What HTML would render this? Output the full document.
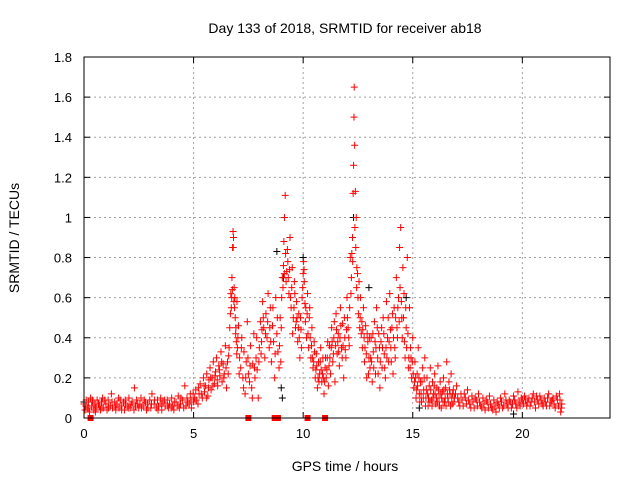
<!DOCTYPE html>
<html><head><meta charset="utf-8"><style>
body{margin:0;background:#fff}
svg{display:block;font-family:"Liberation Sans",sans-serif}
</style></head><body>
<svg id="chart" width="640" height="480" viewBox="0 0 640 480">
<text x="345" y="33" font-size="14" text-anchor="middle">Day 133 of 2018, SRMTID for receiver ab18</text>
<text transform="translate(19,238) rotate(-90)" font-size="14" text-anchor="middle">SRMTID / TECUs</text>
<text x="345" y="471" font-size="14" text-anchor="middle">GPS time / hours</text>
<g id="grid"></g>
<g id="marks"></g>
<rect x="84" y="57" width="526" height="361" fill="none" stroke="#000" stroke-width="1"/>
<g id="axes"></g>
</svg>
<script>
const xTicks=[0,5,10,15,20];
const yTicks=[0,0.2,0.4,0.6,0.8,1,1.2,1.4,1.6,1.8];
const yTickLabels=["0","0.2","0.4","0.6","0.8","1","1.2","1.4","1.6","1.8"];
const redPoints=[[0,0.07],[0.05,0.04],[0.1,0.09],[0.15,0.05],[0.2,0.08],[0.25,0.03],[0.3,0.1],[0.35,0.06],[0.4,0.08],[0.45,0.04],[0.5,0.07],[0.55,0.05],[0.6,0.09],[0.7,0.06],[0.75,0.04],[0.8,0.08],[0.85,0.1],[0.9,0.05],[1.0,0.07],[1.05,0.04],[1.1,0.09],[1.2,0.06],[1.25,0.12],[1.3,0.05],[1.4,0.08],[1.45,0.04],[1.5,0.07],[1.6,0.05],[1.65,0.09],[1.7,0.06],[1.8,0.08],[1.85,0.04],[1.9,0.07],[2.0,0.06],[2.05,0.1],[2.1,0.05],[2.2,0.08],[2.3,0.15],[2.35,0.06],[2.4,0.09],[2.5,0.05],[2.55,0.07],[2.6,0.1],[2.7,0.06],[2.8,0.08],[2.85,0.04],[2.9,0.07],[3.0,0.09],[3.05,0.05],[3.1,0.12],[3.2,0.07],[3.3,0.05],[3.35,0.09],[3.4,0.06],[3.5,0.1],[3.55,0.04],[3.6,0.08],[3.7,0.06],[3.8,0.09],[3.85,0.05],[3.9,0.07],[4.0,0.1],[4.05,0.06],[4.1,0.04],[4.2,0.08],[4.3,0.11],[4.35,0.05],[4.4,0.07],[4.5,0.09],[4.6,0.16],[4.65,0.06],[4.7,0.1],[4.8,0.07],[4.85,0.12],[4.9,0.05],[5.0,0.08],
[5.05,0.1],[5.1,0.14],[5.2,0.07],[5.25,0.12],[5.3,0.17],[5.4,0.1],[5.45,0.2],[5.5,0.13],[5.55,0.16],[5.6,0.22],[5.65,0.11],[5.7,0.19],[5.75,0.25],[5.8,0.14],[5.85,0.2],[5.9,0.28],[5.95,0.17],[6.0,0.23],[6.05,0.3],[6.1,0.16],[6.15,0.26],[6.2,0.21],[6.25,0.33],[6.3,0.18],[6.35,0.27],[6.4,0.22],[6.45,0.36],[6.5,0.15],[6.55,0.28],[6.6,0.31],
[6.65,0.45],[6.7,0.62],[6.72,0.55],[6.75,0.7],[6.78,0.85],[6.8,0.93],[6.82,0.9],[6.85,0.65],[6.88,0.6],[6.9,0.5],[6.92,0.42],[6.95,0.38],[6.98,0.58],[7.0,0.35],[7.05,0.46],[7.1,0.3],[7.15,0.25],[7.2,0.4],[7.25,0.2],[7.3,0.33],[7.35,0.12],[7.4,0.28],[7.45,0.48],[7.5,0.22],[7.55,0.18],[7.6,0.36],[7.65,0.15],[7.7,0.27],[7.75,0.42],[7.8,0.2],[7.85,0.3],[7.9,0.24],[7.95,0.1],[8.0,0.35],
[8.05,0.48],[8.1,0.38],[8.15,0.58],[8.2,0.45],[8.25,0.3],[8.3,0.52],[8.35,0.4],[8.4,0.62],[8.45,0.35],[8.5,0.55],[8.55,0.28],[8.6,0.46],[8.65,0.38],[8.7,0.2],[8.75,0.6],[8.8,0.42],[8.85,0.33],[8.9,0.25],[8.95,0.5],[9.0,0.45],
[9.05,0.7],[9.1,0.76],[9.12,0.88],[9.15,1.0],[9.18,1.11],[9.2,0.82],[9.25,0.73],[9.3,0.78],[9.35,0.62],[9.4,0.9],[9.45,0.55],[9.5,0.75],[9.55,0.5],[9.6,0.68],[9.65,0.45],[9.7,0.58],[9.75,0.38],[9.8,0.52],[9.85,0.3],[9.9,0.44],[9.95,0.6],[10.0,0.72],[10.02,0.78],[10.05,0.68],[10.08,0.57],[10.1,0.48],[10.15,0.4],[10.2,0.62],[10.25,0.35],[10.3,0.55],[10.35,0.3],[10.4,0.45],[10.45,0.25],[10.5,0.38],[10.55,0.2],[10.6,0.32],[10.65,0.15],[10.7,0.28],[10.75,0.22],[10.8,0.35],[10.85,0.18],[10.9,0.3],[10.95,0.12],[11.0,0.25],[11.05,0.2],[11.1,0.3],[11.15,0.16],[11.2,0.36],[11.25,0.22],[11.3,0.45],[11.35,0.28],[11.4,0.4],[11.45,0.18],[11.5,0.52],[11.55,0.32],[11.6,0.42],[11.65,0.26],[11.7,0.55],[11.75,0.35],[11.8,0.47],[11.85,0.2],[11.9,0.4],[11.95,0.3],[12.0,0.6],[12.05,0.45],[12.1,0.36],[12.15,0.8],[12.2,0.7],[12.25,0.9],[12.28,1.12],[12.3,1.26],[12.32,1.5],[12.33,1.65],[12.35,1.36],[12.38,1.13],[12.4,0.85],[12.42,1.0],[12.45,0.75],[12.5,0.6],[12.55,0.68],[12.6,0.5],[12.65,0.42],[12.7,0.35],[12.75,0.55],[12.8,0.28],[12.85,0.46],[12.9,0.2],[12.95,0.38],[13.0,0.3],[13.05,0.25],[13.1,0.4],[13.15,0.18],[13.2,0.33],[13.25,0.48],[13.3,0.22],[13.35,0.55],[13.4,0.3],[13.45,0.42],[13.5,0.15],[13.55,0.38],[13.6,0.25],[13.65,0.5],[13.7,0.32],[13.75,0.2],[13.8,0.58],[13.85,0.4],[13.9,0.28],[13.95,0.62],[14.0,0.35],[14.05,0.45],[14.1,0.22],[14.15,0.55],[14.2,0.3],[14.25,0.7],[14.3,0.4],[14.35,0.6],[14.4,0.85],[14.45,0.95],[14.5,0.5],[14.55,0.75],[14.6,0.62],[14.65,0.3],[14.7,0.45],[14.75,0.8],[14.8,0.25],[14.85,0.55],[14.9,0.35],[14.95,0.2],[15.0,0.4],
[15.05,0.15],[15.1,0.28],[15.15,0.1],[15.2,0.22],[15.25,0.35],[15.3,0.12],[15.35,0.18],[15.4,0.08],[15.45,0.25],[15.5,0.14],[15.55,0.3],[15.6,0.1],[15.65,0.2],[15.7,0.06],[15.75,0.16],[15.8,0.25],[15.85,0.09],[15.9,0.18],[15.95,0.12],[16.0,0.22],[16.05,0.07],[16.1,0.15],[16.15,0.26],[16.2,0.1],[16.25,0.18],[16.3,0.05],[16.35,0.13],[16.4,0.2],[16.45,0.08],[16.5,0.15],[16.55,0.28],[16.6,0.1],[16.65,0.18],[16.7,0.12],[16.75,0.22],[16.8,0.07],[16.85,0.14],[16.9,0.1],[17.0,0.16],
[17.1,0.08],[17.2,0.12],[17.3,0.06],[17.4,0.1],[17.5,0.14],[17.6,0.07],[17.7,0.11],[17.8,0.05],[17.9,0.09],[18.0,0.12],[18.1,0.06],[18.2,0.1],[18.3,0.04],[18.4,0.08],[18.5,0.11],[18.6,0.05],[18.7,0.09],[18.8,0.03],[18.9,0.07],[19.0,0.1],[19.1,0.05],[19.2,0.12],[19.3,0.07],[19.4,0.09],[19.5,0.05],[19.6,0.11],[19.7,0.07],[19.8,0.13],[19.9,0.06],[20.0,0.09],[20.1,0.11],[20.2,0.06],[20.3,0.1],[20.4,0.08],[20.5,0.12],[20.6,0.05],[20.7,0.09],[20.8,0.11],[20.9,0.07],[21.0,0.1],[21.1,0.06],[21.2,0.12],[21.3,0.08],[21.4,0.1],[21.5,0.05],[21.6,0.09],[21.7,0.12],[21.75,0.03],[21.8,0.07]];
const redPointsExtra=[[0.08,0.06],[0.22,0.05],[0.38,0.09],[0.52,0.03],[0.66,0.07],[0.82,0.05],[0.95,0.09],[1.12,0.05],[1.28,0.08],[1.42,0.06],[1.58,0.1],[1.72,0.04],[1.88,0.09],[2.02,0.05],[2.15,0.07],[2.28,0.04],[2.45,0.07],[2.62,0.05],[2.75,0.09],[2.92,0.05],[3.08,0.07],[3.22,0.09],[3.38,0.04],[3.52,0.07],[3.68,0.09],[3.82,0.06],[3.98,0.05],[4.12,0.08],[4.28,0.06],[4.42,0.1],[4.55,0.05],[4.72,0.08],[4.88,0.09],[4.98,0.12],
[5.12,0.09],[5.22,0.15],[5.35,0.12],[5.48,0.16],[5.58,0.1],[5.68,0.15],[5.78,0.2],[5.88,0.16],[5.98,0.21],[6.08,0.19],[6.18,0.24],[6.28,0.28],[6.38,0.2],[6.48,0.25],[6.58,0.22],[6.62,0.35],[6.68,0.52],[6.74,0.6],[6.77,0.64],[6.84,0.58],[6.87,0.55],[6.93,0.45],[6.97,0.32],[7.02,0.4],[7.08,0.22],[7.18,0.35],[7.28,0.15],[7.38,0.2],[7.48,0.3],[7.58,0.26],[7.68,0.1],[7.78,0.25],[7.88,0.4],[7.98,0.28],
[8.08,0.32],[8.12,0.44],[8.18,0.5],[8.28,0.42],[8.38,0.48],[8.48,0.45],[8.52,0.38],[8.62,0.55],[8.72,0.32],[8.82,0.5],[8.92,0.36],[8.98,0.28],[9.02,0.6],[9.08,0.65],[9.14,0.72],[9.22,0.68],[9.28,0.84],[9.32,0.7],[9.38,0.74],[9.42,0.6],[9.48,0.65],[9.52,0.42],[9.58,0.55],[9.62,0.62],[9.68,0.48],[9.72,0.5],[9.78,0.45],[9.82,0.4],[9.88,0.5],[9.92,0.35],[9.98,0.65],[10.04,0.74],[10.12,0.55],[10.18,0.52],[10.22,0.42],[10.28,0.5],[10.32,0.4],[10.38,0.36],[10.42,0.3],[10.48,0.28],[10.52,0.33],[10.58,0.24],[10.62,0.26],[10.68,0.2],[10.72,0.18],[10.78,0.28],[10.82,0.24],[10.88,0.22],[10.92,0.2],[10.98,0.18],[11.02,0.3],[11.08,0.24],[11.12,0.38],[11.18,0.26],[11.22,0.3],[11.28,0.35],[11.32,0.38],[11.38,0.32],[11.42,0.48],[11.48,0.36],[11.52,0.44],[11.58,0.38],[11.62,0.33],[11.68,0.4],[11.72,0.46],[11.78,0.3],[11.82,0.36],[11.88,0.5],[11.92,0.34],[11.98,0.44],[12.02,0.5],[12.08,0.4],[12.12,0.55],[12.18,0.62],[12.22,0.82],[12.26,0.78],[12.36,0.95],[12.44,0.65],[12.48,0.72],[12.52,0.52],[12.58,0.45],[12.62,0.6],[12.68,0.48],[12.72,0.44],[12.78,0.4],[12.82,0.35],[12.88,0.32],[12.92,0.42],[12.98,0.22],[13.02,0.4],[13.08,0.3],[13.12,0.28],[13.18,0.42],[13.22,0.25],[13.28,0.38],[13.32,0.35],[13.38,0.45],[13.42,0.22],[13.48,0.35],[13.52,0.28],[13.58,0.45],[13.62,0.35],[13.68,0.42],[13.72,0.25],[13.78,0.35],[13.82,0.3],[13.88,0.5],[13.92,0.38],[13.98,0.44],[14.02,0.28],[14.08,0.52],[14.12,0.4],[14.18,0.35],[14.22,0.5],[14.28,0.45],[14.32,0.55],[14.38,0.48],[14.42,0.65],[14.48,0.58],[14.52,0.4],[14.58,0.5],[14.62,0.38],[14.68,0.55],[14.72,0.35],[14.78,0.42],[14.82,0.3],[14.88,0.25],[14.92,0.3],[14.98,0.28],
[15.02,0.22],[15.08,0.18],[15.12,0.2],[15.18,0.14],[15.22,0.16],[15.28,0.2],[15.32,0.08],[15.38,0.12],[15.42,0.18],[15.48,0.1],[15.52,0.2],[15.58,0.06],[15.62,0.14],[15.68,0.12],[15.72,0.1],[15.78,0.08],[15.82,0.14],[15.88,0.06],[15.92,0.1],[15.98,0.16],[16.02,0.12],[16.08,0.1],[16.12,0.08],[16.18,0.14],[16.22,0.06],[16.28,0.12],[16.32,0.1],[16.38,0.08],[16.42,0.14],[16.48,0.1],[16.52,0.06],[16.58,0.12],[16.62,0.08],[16.68,0.14],[16.72,0.06],[16.78,0.1],[16.82,0.12],[16.88,0.08],[16.95,0.12],
[17.05,0.1],[17.15,0.06],[17.25,0.09],[17.35,0.12],[17.45,0.07],[17.55,0.09],[17.65,0.05],[17.75,0.08],[17.85,0.1],[17.95,0.06],[18.05,0.08],[18.15,0.05],[18.25,0.07],[18.35,0.09],[18.45,0.05],[18.55,0.07],[18.65,0.04],[18.75,0.06],[18.85,0.08],[18.95,0.05],[19.05,0.08],[19.15,0.06],[19.25,0.09],[19.35,0.05],[19.45,0.08],[19.55,0.07],[19.65,0.09],[19.75,0.05],[19.85,0.08],[19.95,0.1],[20.05,0.07],[20.15,0.09],[20.25,0.08],[20.35,0.06],[20.45,0.1],[20.55,0.08],[20.65,0.11],[20.75,0.07],[20.85,0.09],[20.95,0.06],[21.05,0.08],[21.15,0.1],[21.25,0.06],[21.35,0.09],[21.45,0.07],[21.55,0.11],[21.65,0.06],[21.72,0.09],[21.78,0.05]];
const blackPoints=[[0,0.08],[6.8,0.85],[8.8,0.83],[9.1,0.7],[9.0,0.15],[9.05,0.1],[12.3,1.0],[14.7,0.6],[13.0,0.65],[10.0,0.8],[15.3,0.05],[19.6,0.02]];
const zeroSquares=[0.3,7.5,8.7,8.85,10.2,11.0];

const NS="http://www.w3.org/2000/svg";
const X0=84,X1=610,Y0=418,Y1=57,XMAX=24,YMAX=1.8;
function xs(t){return X0+t/XMAX*(X1-X0);}
function ys(v){return Y0-v/YMAX*(Y0-Y1);}
function mk(tag,attrs,parent){const e=document.createElementNS(NS,tag);for(const k in attrs)e.setAttribute(k,attrs[k]);parent.appendChild(e);return e;}
const grid=document.getElementById('grid'),axes=document.getElementById('axes'),marks=document.getElementById('marks');
xTicks.forEach(t=>{
  const x=xs(t);
  if(t>0){const g=mk('line',{x1:x,x2:x,y1:Y1,y2:Y0,stroke:'#a0a0a0','stroke-dasharray':'2,3'},grid);
  
  }
  mk('line',{x1:x,x2:x,y1:Y0,y2:Y0-6,stroke:'#000'},axes);
  mk('line',{x1:x,x2:x,y1:Y1,y2:Y1+6,stroke:'#000'},axes);
  const l=mk('text',{x:x,y:Y0+20,'font-size':13,'text-anchor':'middle'},axes);
  l.textContent=String(t);
  
  
});
yTicks.forEach((v,i)=>{
  const y=ys(v);
  if(v>0){const g=mk('line',{x1:X0,x2:X1,y1:y,y2:y,stroke:'#a0a0a0','stroke-dasharray':'2,3'},grid);
  
  }
  mk('line',{x1:X0,x2:X0+6,y1:y,y2:y,stroke:'#000'},axes);
  mk('line',{x1:X1,x2:X1-6,y1:y,y2:y,stroke:'#000'},axes);
  const l=mk('text',{x:X0-12,y:y+5,'font-size':13,'text-anchor':'end'},axes);
  l.textContent=yTickLabels[i];
  
  
});
function plus(t,v,color,name){
  const x=xs(t),y=ys(v);
  const p=mk('path',{d:`M${x-3.5},${y}H${x+3.5}M${x},${y-3.5}V${y+3.5}`,stroke:color,'stroke-width':1,fill:'none'},marks);
  
  
}
blackPoints.forEach(p=>plus(p[0],p[1],'#000','black-point'));
redPoints.forEach(p=>plus(p[0],p[1],'#ff0000','red-point'));
redPointsExtra.forEach(p=>plus(p[0],p[1],'#ff0000','red-point'));
zeroSquares.forEach(t=>{
  const r=mk('rect',{x:xs(t)-3,y:Y0-3,width:6,height:6,fill:'#ff0000'},marks);
  
  
});
</script>
</body></html>
